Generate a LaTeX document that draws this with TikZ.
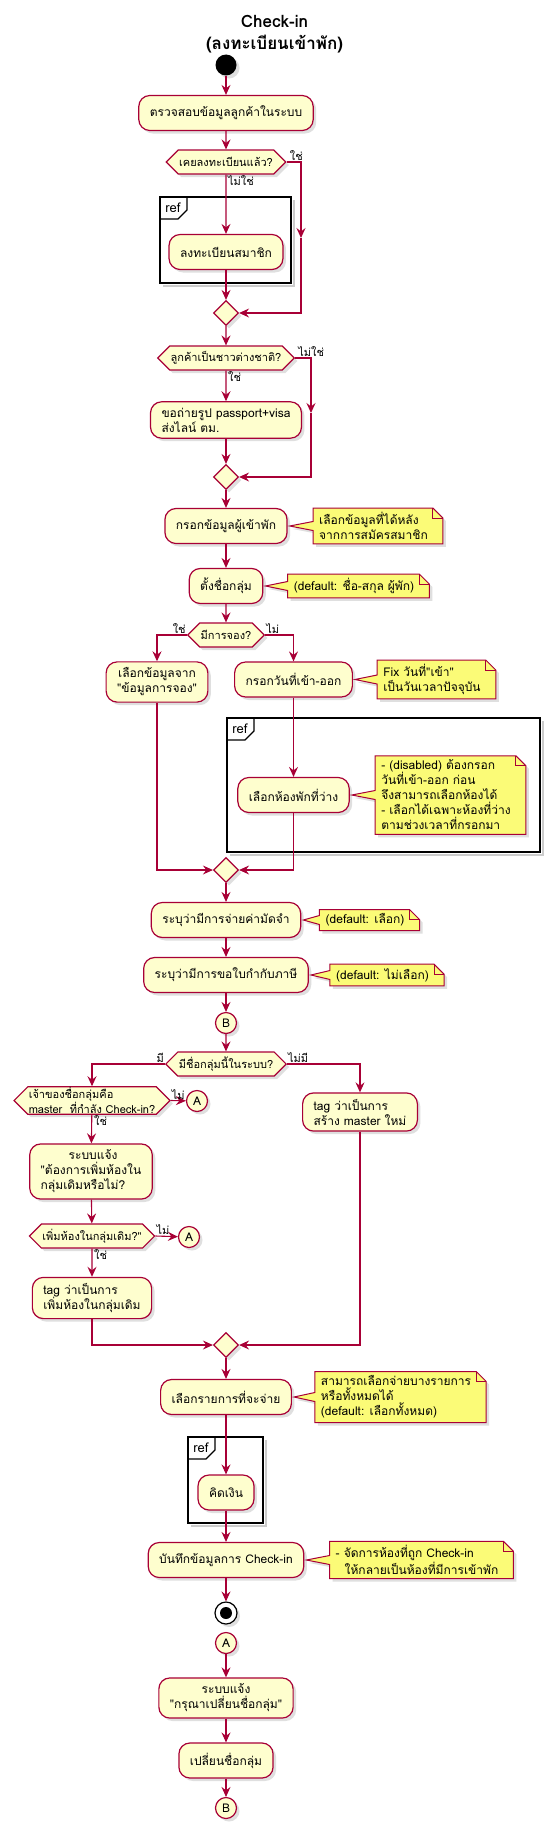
\documentclass[tikz,border=0pt]{standalone}
\usepackage{fontspec}
\newfontfamily\thaitext[Script=Thai]{Loma}
\usepackage{tikz}
\usetikzlibrary{shapes.geometric}
\usetikzlibrary{shapes.symbols}
\usetikzlibrary{arrows.meta}
\usetikzlibrary{shadows}
\usetikzlibrary{backgrounds}
\definecolor{actfill}{HTML}{FEFECE}
\definecolor{actline}{HTML}{A80036}
\definecolor{notefill}{HTML}{FBFB77}
\tikzset{>={Stealth[length=10pt,width=9pt,inset=3.5pt]}}
\tikzset{
  shade/.style={drop shadow={shadow xshift=3pt, shadow yshift=-3pt, opacity=0.25}},
  act/.style={rectangle, rounded corners=11pt, draw=actline, fill=actfill, line width=1.2pt,
    minimum height=35pt, inner xsep=11pt, inner ysep=6pt, align=left,
    font=\fontsize{12}{15}\selectfont, shade},
  dec/.style={signal, signal to=east and west, draw=actline, fill=actfill, line width=1.2pt,
    minimum height=24pt, inner xsep=1pt, inner ysep=2pt, align=left,
    font=\fontsize{11}{15}\selectfont, shade},
  merge/.style={diamond, draw=actline, fill=actfill, line width=1.2pt, minimum size=25pt,
    inner sep=0pt, shade},
  conn/.style={circle, draw=actline, fill=actfill, line width=1.2pt, minimum size=21pt,
    inner sep=0pt, font=\fontsize{12}{14}\selectfont, shade},
  startdot/.style={circle, fill=black, minimum size=21pt, inner sep=0pt, shade},
  flow/.style={draw=actline, line width=1.1pt, ->},
  plain/.style={draw=actline, line width=1.1pt},
  notetext/.style={align=left, inner xsep=6pt, inner ysep=4pt, font=\fontsize{12}{15}\selectfont},
  note/.style={draw=actline, fill=notefill, line width=1pt, shade},
  lbl/.style={inner sep=1pt, font=\fontsize{11}{13}\selectfont},
  refline/.style={draw=black, line width=1.8pt},
  refshadow/.style={draw=black, opacity=0.2, line width=2pt},
  reflbl/.style={inner sep=0pt, font=\fontsize{13}{15}\selectfont},
}
% note outline: #1 note node, #2 action it points at
\newcommand{\drawnote}[2]{%
  \path[note] (#1.north west) -- ([xshift=-1pt]#1.north east) -- ([xshift=9pt,yshift=-10pt]#1.north east)
    -- ([xshift=9pt]#1.south east) -- (#1.south west) -- ([yshift=-4.5pt]#1.west)
    -- ([xshift=2pt]#2.east) -- ([yshift=4.5pt]#1.west) -- cycle;
  \draw[plain, line width=1pt] ([xshift=-1pt]#1.north east) |- ([xshift=9pt,yshift=-10pt]#1.north east);
}

\begin{document}
\thaitext
\begin{tikzpicture}[x=1pt, y=-1pt]
  \useasboundingbox (0,0) rectangle (549,1828);

  % ref frames
  \draw[refshadow] (163,286) -- (294,286) -- (294,200);
  \draw[refline] (160,197) rectangle (291,283);
  \draw[refline, line width=1.2pt] (187,197) -- (187,210) -- (178,219) -- (160,219);
  \node[reflbl] (ref1) at (173,208) {ref};

  \draw[refshadow] (230,855) -- (543,855) -- (543,721);
  \draw[refline] (227,718) rectangle (540,852);
  \draw[refline, line width=1.2pt] (254,718) -- (254,731) -- (245,740) -- (227,740);
  \node[reflbl] (ref2) at (240,729) {ref};

  \draw[refshadow] (191,1526) -- (266,1526) -- (266,1440);
  \draw[refline] (188,1437) rectangle (263,1523);
  \draw[refline, line width=1.2pt] (215,1437) -- (215,1450) -- (206,1459) -- (188,1459);
  \node[reflbl] (ref3) at (201,1448) {ref};

  % title
  \node[align=center, font=\fontsize{17}{22}\selectfont\bfseries] (title) at (274.5,34)
    {Check-in\\(ลงทะเบียนเข้าพัก)};

  % main flow
  \node[startdot] (start) at (226,65) {};
  \node[act] (check) at (226,113) {ตรวจสอบข้อมูลลูกค้าในระบบ};
  \node[dec] (isreg) at (226,162) {เคยลงทะเบียนแล้ว?};
  \node[act] (member) at (226,252) {ลงทะเบียนสมาชิก};
  \node[merge] (m1) at (226,313) {};
  \coordinate (r1) at (301,238);

  \node[dec] (foreign) at (226,358) {ลูกค้าเป็นชาวต่างชาติ?};
  \node[act] (passport) at (226,420) {ขอถ่ายรูป passport+visa\\ส่งไลน์ ตม.};
  \node[merge] (m2) at (226,477) {};
  \coordinate (r2) at (311,413);

  \node[act] (guest) at (226,526) {กรอกข้อมูลผู้เข้าพัก};
  \node[notetext] (nguest) at (373.5,526) {เลือกข้อมูลที่ได้หลัง\\จากการสมัครสมาชิก};
  \node[act] (group) at (226,586) {ตั้งชื่อกลุ่ม};
  \node[notetext] (ngroup) at (354,586) {(default: ชื่อ-สกุล ผู้พัก)};

  \node[dec] (booked) at (226,635) {มีการจอง?};
  \node[act, align=center] (frombook) at (157,682) {เลือกข้อมูลจาก\\"ข้อมูลการจอง"};
  \node[act] (dates) at (293.5,679.5) {กรอกวันที่เข้า-ออก};
  \node[notetext] (ndates) at (432,679.5) {Fix วันที่"เข้า"\\เป็นวันเวลาปัจจุบัน};
  \node[act] (room) at (293.5,795) {เลือกห้องพักที่ว่าง};
  \node[notetext] (nroom) at (446,795)
    {- (disabled) ต้องกรอก\\วันที่เข้า-ออก ก่อน\\จึงสามารถเลือกห้องได้\\- เลือกได้เฉพาะห้องที่ว่าง\\ตามช่วงเวลาที่กรอกมา};
  \node[merge] (m3) at (226,870) {};

  \node[act] (deposit) at (226,920) {ระบุว่ามีการจ่ายค่ามัดจำ};
  \node[notetext] (ndeposit) at (365,920) {(default: เลือก)};
  \node[act] (invoice) at (226,975) {ระบุว่ามีการขอใบกำกับภาษี};
  \node[notetext] (ninvoice) at (382.5,975) {(default: ไม่เลือก)};
  \node[conn] (B1) at (226,1023) {B};

  \node[dec] (hasgroup) at (226,1064) {มีชื่อกลุ่มนี้ในระบบ?};
  \node[dec, inner ysep=0.5pt] (owner) at (92,1100.5) {เจ้าของชื่อกลุ่มคือ\\master~ ที่กำลัง Check-in?};
  \node[conn] (A1) at (197,1101) {A};
  \node[act] (newmaster) at (360,1112) {tag ว่าเป็นการ\\สร้าง master ใหม่};
  \node[act] (ask) at (91,1171.5) {\hspace*{28pt}ระบบแจ้ง\\"ต้องการเพิ่มห้องใน\\กลุ่มเดิมหรือไม่?};
  \node[dec] (addroom) at (92,1236) {เพิ่มห้องในกลุ่มเดิม?"};
  \node[conn] (A2) at (189,1237) {A};
  \node[act] (tagadd) at (92,1298) {tag ว่าเป็นการ\\เพิ่มห้องในกลุ่มเดิม};
  \node[merge] (m4) at (226,1345) {};

  \node[act] (items) at (226,1397) {เลือกรายการที่จะจ่าย};
  \node[notetext] (nitems) at (396,1397)
    {สามารถเลือกจ่ายบางรายการ\\หรือทั้งหมดได้\\(default: เลือกทั้งหมด)};
  \node[act] (pay) at (226,1492.5) {คิดเงิน};
  \node[act] (save) at (226,1560) {บันทึกข้อมูลการ Check-in};
  \node[notetext] (nsave) at (417,1560)
    {- จัดการห้องที่ถูก Check-in\\\hspace*{9pt}ให้กลายเป็นห้องที่มีการเข้าพัก};
  \node[circle, draw=black, fill=white, line width=1.2pt, minimum size=22pt, inner sep=0pt, shade]
    (stop) at (226,1613) {};
  \node[circle, fill=black, minimum size=12pt, inner sep=0pt] (stopdot) at (stop) {};

  \node[conn] (A3) at (226,1643) {A};
  \node[act, align=center] (rename) at (226,1698) {ระบบแจ้ง\\"กรุณาเปลี่ยนชื่อกลุ่ม"};
  \node[act] (change) at (226,1760.5) {เปลี่ยนชื่อกลุ่ม};
  \node[conn] (B2) at (226,1808) {B};

  % connectors
  \draw[flow] (start) -- (check);
  \draw[flow] (check) -- (isreg);
  \draw[flow] (isreg) -- (member);
  \draw[flow] (member) -- (m1);
  \draw[flow] (isreg.east) -| (r1);
  \draw[flow] (r1) |- (m1.east);
  \node[lbl, anchor=south west] (yes1) at ([xshift=2pt]isreg.east) {ใช่};
  \node[lbl, anchor=north west] (no1) at ([xshift=1pt]isreg.south) {ไม่ใช่};

  \draw[flow] (m1) -- (foreign);
  \draw[flow] (foreign) -- (passport);
  \draw[flow] (passport) -- (m2);
  \draw[flow] (foreign.east) -| (r2);
  \draw[flow] (r2) |- (m2.east);
  \node[lbl, anchor=south west] (no2) at ([xshift=2pt]foreign.east) {ไม่ใช่};
  \node[lbl, anchor=north west] (yes2) at ([xshift=1pt]foreign.south) {ใช่};

  \draw[flow] (m2) -- (guest);
  \draw[flow] (guest) -- (group);
  \draw[flow] (group) -- (booked);
  \draw[flow] (booked.west) -| (frombook.north);
  \draw[flow] (booked.east) -| (dates.north);
  \node[lbl, anchor=south east] (yes3) at (booked.west) {ใช่};
  \node[lbl, anchor=south west] (no3) at (booked.east) {ไม่};
  \draw[flow] (dates) -- (room);
  \draw[flow] (frombook.south) |- (m3.west);
  \draw[flow] (room.south) |- (m3.east);

  \draw[flow] (m3) -- (deposit);
  \draw[flow] (deposit) -- (invoice);
  \draw[flow] (invoice) -- (B1);
  \draw[flow] (B1) -- (hasgroup);
  \draw[flow] (hasgroup.west) -| (owner.north);
  \draw[flow] (hasgroup.east) -| (newmaster.north);
  \node[lbl, anchor=south east] (yes4) at (hasgroup.west) {มี};
  \node[lbl, anchor=south west] (no4) at (hasgroup.east) {ไม่มี};
  \draw[flow] (owner.east) -- (A1);
  \node[lbl, anchor=south west] (no5) at (owner.east) {ไม่};
  \draw[flow] (owner) -- (ask);
  \node[lbl, anchor=north west] (yes5) at ([xshift=1pt]owner.south) {ใช่};
  \draw[flow] (ask) -- (addroom);
  \draw[flow] (addroom.east) -- (A2);
  \node[lbl, anchor=south west] (no6) at (addroom.east) {ไม่};
  \draw[flow] (addroom) -- (tagadd);
  \node[lbl, anchor=north west] (yes6) at ([xshift=1pt]addroom.south) {ใช่};
  \draw[flow] (tagadd.south) |- (m4.west);
  \draw[flow] (newmaster.south) |- (m4.east);

  \draw[flow] (m4) -- (items);
  \draw[flow] (items) -- (pay);
  \draw[flow] (pay) -- (save);
  \draw[flow] (save) -- (stop);
  \draw[flow] (A3) -- (rename);
  \draw[flow] (rename) -- (change);
  \draw[flow] (change) -- (B2);

  % notes
  \begin{scope}[on background layer]
    \fill[white] (0,0) rectangle (549,1828);
    \drawnote{nguest}{guest}
    \drawnote{ngroup}{group}
    \drawnote{ndates}{dates}
    \drawnote{nroom}{room}
    \drawnote{ndeposit}{deposit}
    \drawnote{ninvoice}{invoice}
    \drawnote{nitems}{items}
    \drawnote{nsave}{save}
  \end{scope}
\end{tikzpicture}
\end{document}
